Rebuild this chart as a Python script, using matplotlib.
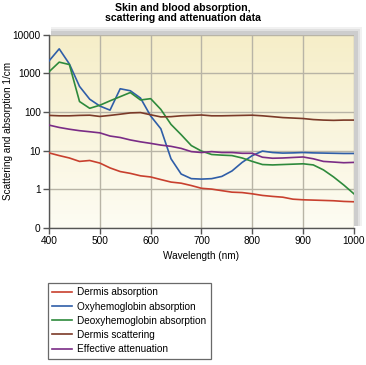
import matplotlib
matplotlib.use("Agg")
import matplotlib.pyplot as plt
import numpy as np
from matplotlib.patches import Rectangle

plt.rcParams['font.family'] = ['Liberation Sans Narrow', 'Liberation Sans', 'DejaVu Sans']

wavelength = [400, 420, 440, 460, 480, 500, 520, 540, 560, 580, 600, 620, 640, 660, 680,
              700, 720, 740, 760, 780, 800, 820, 840, 860, 880, 900, 920, 940, 960, 980, 1000]

dermis_abs = [8.8, 7.5, 6.5, 5.3, 5.6, 4.8, 3.6, 2.9, 2.6, 2.25, 2.1, 1.8, 1.55, 1.45, 1.26,
              1.07, 1.02, 0.93, 0.85, 0.83, 0.77, 0.70, 0.66, 0.63, 0.56, 0.54, 0.53, 0.52, 0.51, 0.49, 0.48]
oxy_abs = [2100, 4300, 1750, 460, 215, 143, 112, 400, 355, 230, 79, 37, 6.2, 2.5, 1.9,
           1.85, 1.9, 2.17, 3.0, 5.0, 7.5, 9.8, 9.0, 8.7, 8.8, 9.0, 8.8, 8.7, 8.6, 8.5, 8.5]
deoxy_abs = [1100, 1950, 1690, 187, 125, 150, 195, 250, 320, 205, 222, 117, 48, 26, 13.6,
             9.8, 8.0, 7.7, 7.5, 6.5, 5.3, 4.4, 4.3, 4.4, 4.5, 4.6, 4.3, 3.2, 2.1, 1.3, 0.77]
dermis_scat = [82, 80, 80, 82, 83, 77, 82, 88, 95, 97, 85, 75, 76, 80, 82,
               84, 80, 80, 81, 82, 83, 80, 76, 72, 70, 68, 64, 62, 61, 62, 62]
eff_atten = [46, 40, 36, 33, 31, 29, 24, 22, 19, 17, 15.5, 14, 13, 11.5, 9.5,
             9.0, 9.5, 9.0, 9.0, 8.6, 8.6, 6.8, 6.4, 6.5, 6.7, 6.9, 6.2, 5.3, 5.1, 4.9, 5.0]

labels = ['Dermis absorption', 'Oxyhemoglobin absorption', 'Deoxyhemoglobin absorption',
          'Dermis scattering', 'Effective attenuation']
colors = ['#c8402e', '#2f5ea8', '#2e8a3c', '#7b3a28', '#7a2c86']
series = [dermis_abs, oxy_abs, deoxy_abs, dermis_scat, eff_atten]

yticks = [0.1, 1, 10, 100, 1000, 10000]
ytick_labels = ['0', '1', '10', '100', '1000', '10000']

fig = plt.figure(figsize=(3.66, 3.65), dpi=100)
ax = fig.add_axes([0.134, 0.375, 0.833, 0.53])

# soft shadow up and to the right of the plot box
pos = ax.get_position()
for k, a in enumerate([0.08, 0.10, 0.14]):
    off = (3 - k) * 2
    fig.patches.append(Rectangle((pos.x0 + 2 / 366, pos.y0 + 2 / 365),
                                 pos.width + off / 366, pos.height + off / 365,
                                 transform=fig.transFigure, color='#555555', alpha=a,
                                 zorder=-5, lw=0))

grad = np.linspace(0, 1, 256).reshape(-1, 1)
c_top = np.array([246, 238, 200]) / 255
c_bot = np.array([253, 252, 243]) / 255
img = c_bot + (c_top - c_bot) * grad
ax.imshow(img[:, None, :].repeat(2, axis=1), extent=[0, 1, 0, 1], origin='lower',
          transform=ax.transAxes, aspect='auto', zorder=0)

for s, c, l in zip(series, colors, labels):
    ax.plot(wavelength, s, color=c, lw=1.2, label=l, zorder=3)

ax.set_yscale('log')
ax.set_xlim(400, 1000)
ax.set_ylim(0.1, 10000)
ax.set_yticks(yticks)
ax.set_yticklabels(ytick_labels)
ax.yaxis.set_minor_locator(matplotlib.ticker.NullLocator())
ax.set_xticks(range(400, 1001, 100))
ax.grid(True, color='#b8b4a6', lw=1.0, zorder=1)
ax.tick_params(labelsize=7.3, length=4, width=1, color='#555555', pad=2)

for side in ['top', 'right']:
    ax.spines[side].set_visible(False)
for side in ['left', 'bottom']:
    ax.spines[side].set_color('#555555')
    ax.spines[side].set_linewidth(1.0)

ax.set_xlabel('Wavelength (nm)', fontsize=7.2, labelpad=3)
ax.set_ylabel('Scattering and absorption 1/cm', fontsize=7.2)
ax.yaxis.set_label_coords(-0.118, 0.5)
fig.text(0.5, 0.993, 'Skin and blood absorption,\nscattering and attenuation data',
         ha='center', va='top', fontsize=7.6, fontweight='bold', linespacing=1.1)

leg = fig.legend(loc='upper left', bbox_to_anchor=(0.131, 0.225), fontsize=7.2,
                 frameon=True, fancybox=False, edgecolor='#444444', handlelength=2.0,
                 labelspacing=0.42, borderpad=0.45, handletextpad=0.5, borderaxespad=0)
leg.get_frame().set_linewidth(0.9)

fig.savefig('out.png', dpi=100)
